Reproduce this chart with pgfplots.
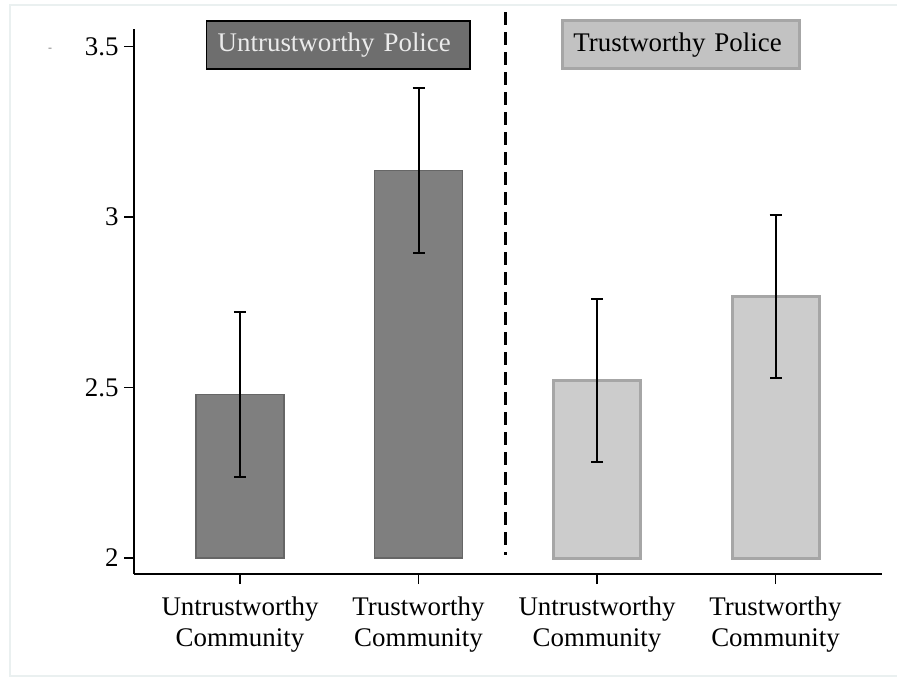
\documentclass[border=0pt]{standalone}
\usepackage{pgfplots}
\pgfplotsset{compat=1.18}
\usepackage{fontspec}
\setmainfont{Liberation Serif}

\definecolor{darkbar}{HTML}{7F7F7F}
\definecolor{darkedge}{HTML}{666666}
\definecolor{lightbar}{HTML}{CCCCCC}
\definecolor{lightedge}{HTML}{A6A6A6}
\definecolor{boxdark}{HTML}{6E6E6E}
\definecolor{boxlight}{HTML}{C2C2C2}
\definecolor{framecol}{HTML}{EAF0F0}

\begin{document}
\begin{tikzpicture}[x=1bp,y=1bp]
\useasboundingbox (0,0) rectangle (897,-677);
\draw[framecol, line width=1.5bp] (898,-5) -- (10,-5) -- (10,-676) -- (898,-676);
\node[gray, font=\fontsize{12}{14}\selectfont] at (50,-50) {-};
\begin{axis}[
  at={(134bp,-574bp)}, anchor=south west,
  scale only axis, width=748bp, height=545bp,
  xmin=0.4062, xmax=4.5966,
  ymin=1.9531, ymax=3.5513,
  y coord trafo/.code={\pgfmathparse{#1-2}},
  y coord inv trafo/.code={\pgfmathparse{#1+2}},
  axis x line=bottom, axis y line=left,
  axis line style={-, line width=1.5bp, black},
  xtick={1,2,3,4},
  xticklabels={{Untrustworthy\\Community},{Trustworthy\\Community},{Untrustworthy\\Community},{Trustworthy\\Community}},
  ytick={2,2.5,3,3.5},
  yticklabels={2,2.5,3,3.5},
  tick align=outside,
  major tick length=10bp,
  tick style={line width=1.5bp, black},
  x tick label style={align=center, font=\fontsize{27}{31}\selectfont, yshift=-9bp},
  y tick label style={font=\fontsize{27}{31}\selectfont, xshift=-2bp},
  clip=false,
]
% Untrustworthy police
\addplot[ybar, bar width=88bp, bar shift=0pt, fill=darkbar, draw=darkedge, line width=1.5bp,
  error bars/.cd, y dir=both, y explicit,
  error bar style={line width=2bp, black},
  error mark options={rotate=90, line width=2bp, mark size=6bp, black}]
  coordinates {(1,2.479) +- (0,0.242) (2,3.136) +- (0,0.242)};
% Trustworthy police
\addplot[ybar, bar width=87bp, bar shift=0pt, fill=lightbar, draw=lightedge, line width=3bp,
  error bars/.cd, y dir=both, y explicit,
  error bar style={line width=2bp, black},
  error mark options={rotate=90, line width=2bp, mark size=6bp, black}]
  coordinates {(3,2.521) +- (0,0.239) (4,2.767) +- (0,0.239)};
% divider between the two police groups
\draw[black, line width=3bp, dash pattern=on 13bp off 7bp] (axis cs:2.485,3.601) -- (axis cs:2.485,2.009);
% group headers
\node[anchor=west, fill=boxdark, draw=black, line width=1.5bp, text=white!92!black,
  text width=241bp, inner xsep=11bp, minimum height=48bp, align=left,
  font=\fontsize{27}{30}\selectfont] at (axis cs:0.8095,3.5044) {Untrustworthy Police};
\node[anchor=west, fill=boxlight, draw=lightedge, line width=3bp, text=black,
  text width=215bp, inner xsep=11bp, minimum height=48bp, align=left,
  font=\fontsize{27}{30}\selectfont] at (axis cs:2.798,3.5044) {Trustworthy Police};
\end{axis}
\end{tikzpicture}
\end{document}
